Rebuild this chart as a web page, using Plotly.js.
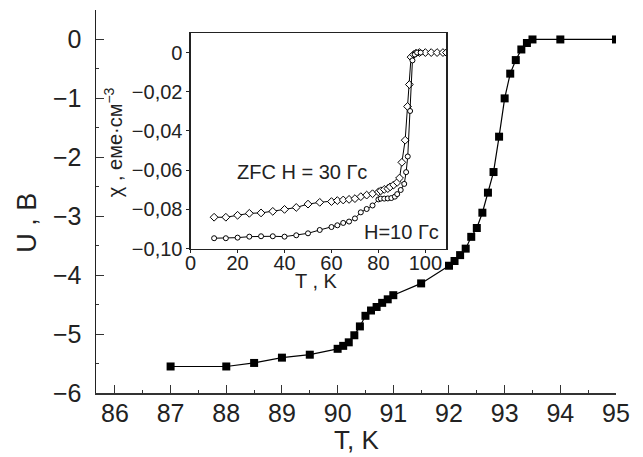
<!DOCTYPE html>
<html>
<head>
<meta charset="utf-8">
<script src="https://cdn.plot.ly/plotly-3.0.1.min.js"></script>
<style>html,body{margin:0;padding:0;background:#fff;}#plot{width:643px;height:457px;}</style>
</head>
<body>
<div id="plot"></div>
<script>
// Main curve: U(T)
const T_main = [87, 88, 88.5, 89, 89.5, 90, 90.1, 90.2, 90.3, 90.4, 90.5, 90.6, 90.7, 90.8, 90.9, 91, 91.5, 92, 92.1, 92.2, 92.3, 92.4, 92.5, 92.6, 92.7, 92.8, 92.9, 93, 93.1, 93.2, 93.3, 93.4, 93.5, 94, 95];
const U_main = [-5.55, -5.55, -5.49, -5.40, -5.35, -5.25, -5.20, -5.14, -5.02, -4.87, -4.69, -4.60, -4.54, -4.47, -4.41, -4.34, -4.14, -3.84, -3.76, -3.66, -3.55, -3.35, -3.20, -2.94, -2.60, -2.25, -1.65, -1.00, -0.58, -0.35, -0.17, -0.06, 0, 0, 0];

// Inset: ZFC H = 30 Gs (diamonds)
const T_zfc30 = [10, 15, 20, 25, 30, 35, 40, 45, 50, 55, 60, 62.5, 65, 67.5, 70, 72.5, 75, 77.5, 80, 81, 82.5, 84, 85, 86.5, 88, 89, 90, 91.4, 92.4, 93.2, 93.9, 95, 96, 97.5, 100, 102.5, 105, 107.5, 109];
const chi_zfc30 = [-0.0840, -0.0840, -0.0830, -0.0820, -0.0818, -0.0810, -0.0800, -0.0790, -0.0773, -0.0764, -0.0760, -0.0755, -0.0752, -0.0749, -0.0745, -0.0735, -0.0727, -0.0720, -0.0711, -0.0705, -0.0698, -0.0694, -0.0685, -0.0675, -0.0662, -0.0640, -0.0560, -0.0447, -0.0275, -0.0163, -0.0023, -0.0010, -0.0003, 0, 0, 0, 0, 0, 0];

// Inset: H = 10 Gs (circles)
const T_h10 = [10, 15, 20, 25, 30, 35, 40, 45, 50, 55, 60, 62.5, 65, 67.5, 70, 72.5, 75, 77.5, 80, 81, 82.5, 84, 85.5, 87, 88, 89.5, 91, 91.8, 92.5, 93.5, 94.5, 95.5, 96.5, 98];
const chi_h10 = [-0.0947, -0.0947, -0.0944, -0.0939, -0.0937, -0.0937, -0.0939, -0.0932, -0.0922, -0.0905, -0.0890, -0.0881, -0.0869, -0.0862, -0.0846, -0.0815, -0.0798, -0.0780, -0.0749, -0.0745, -0.0745, -0.0744, -0.0742, -0.0735, -0.0722, -0.0701, -0.0670, -0.0610, -0.0530, -0.0298, -0.0040, -0.0010, 0, 0];

// Tick labels
const mainXTicks = [86, 87, 88, 89, 90, 91, 92, 93, 94, 95];
const mainYTicks = [0, -1, -2, -3, -4, -5, -6];
const insetYTicks = [0, -0.02, -0.04, -0.06, -0.08, -0.10];
const insetYLabels = ['0', '\u22120,02', '\u22120,04', '\u22120,06', '\u22120,08', '\u22120,10'];
const insetXTicks = [0, 20, 40, 60, 80, 100];

const FONT = 'Liberation Sans, Arial, sans-serif';
const TXT = '#222';

const traces = [
  {x: T_main, y: U_main, xaxis: 'x', yaxis: 'y', mode: 'lines+markers',
   line: {color: '#000', width: 1.2},
   marker: {symbol: 'square', size: 8, color: '#000'}},
  {x: T_zfc30, y: chi_zfc30, xaxis: 'x2', yaxis: 'y2', mode: 'lines+markers',
   line: {color: '#000', width: 1},
   marker: {symbol: 'diamond', size: 6, color: '#fff', line: {color: '#000', width: 1}}},
  {x: T_h10, y: chi_h10, xaxis: 'x2', yaxis: 'y2', mode: 'lines+markers',
   line: {color: '#000', width: 1},
   marker: {symbol: 'circle', size: 5, color: '#fff', line: {color: '#000', width: 1}}}
];

const layout = {
  width: 643, height: 457,
  margin: {l: 96, r: 27, t: 10, b: 64},
  paper_bgcolor: '#fff', plot_bgcolor: 'rgba(0,0,0,0)',
  showlegend: false,
  font: {family: FONT, color: TXT},
  xaxis: {
    domain: [0, 1], range: [85.66, 95], tickvals: mainXTicks,
    ticks: 'inside', ticklen: 8, tickwidth: 1, tickcolor: '#333',
    minor: {dtick: 0.5, ticks: 'inside', ticklen: 3, tickcolor: '#333'},
    showline: true, linecolor: '#333', linewidth: 1.5, mirror: false,
    showgrid: false, zeroline: false,
    tickfont: {size: 25, color: TXT}, ticklabelstandoff: -3
  },
  xaxis3: {
    overlaying: 'x', side: 'top', range: [85.66, 95], anchor: 'y',
    showline: true, linecolor: '#888', linewidth: 1, ticks: '',
    showticklabels: false, showgrid: false, zeroline: false
  },
  yaxis: {
    domain: [0, 1], range: [-6, 0.5], tickvals: mainYTicks,
    ticks: 'inside', ticklen: 8, tickwidth: 1, tickcolor: '#333',
    minor: {dtick: 0.5, ticks: 'inside', ticklen: 3, tickcolor: '#333'},
    showline: true, linecolor: '#222', linewidth: 1.5,
    showgrid: false, zeroline: false,
    tickfont: {size: 25, color: TXT}, ticklabelstandoff: 8
  },
  yaxis3: {
    overlaying: 'y', side: 'right', range: [-6, 0.5], anchor: 'x', dtick: 0.5,
    ticks: 'inside', ticklen: 3, tickcolor: '#666',
    showline: true, linecolor: '#777', linewidth: 1.5,
    showticklabels: false, showgrid: false, zeroline: false
  },
  xaxis2: {
    domain: [0.182, 0.674], anchor: 'y2', range: [0, 109], tickvals: insetXTicks,
    ticks: 'outside', ticklen: 3, tickcolor: '#222',
    showline: true, linecolor: '#222', linewidth: 1.2, mirror: true,
    showgrid: false, zeroline: false,
    tickfont: {size: 20, color: TXT}, ticklabelstandoff: -7
  },
  yaxis2: {
    domain: [0.377, 0.939], anchor: 'x2', range: [-0.1, 0.0098],
    tickvals: insetYTicks, ticktext: insetYLabels,
    ticks: 'outside', ticklen: 3, tickcolor: '#222',
    showline: true, linecolor: '#222', linewidth: 1.2, mirror: true,
    showgrid: false, zeroline: false,
    tickfont: {size: 20, color: TXT}
  },
  shapes: [
    {type: 'rect', xref: 'paper', yref: 'paper', x0: 0.182, x1: 0.674, y0: 0.377, y1: 0.939,
     fillcolor: '#fff', line: {width: 0}, layer: 'below'}
  ],
  annotations: [
    {text: 'U , B', xref: 'paper', yref: 'paper', x: -0.133, y: 0.444, textangle: -90,
     showarrow: false, font: {size: 27, color: TXT}, xanchor: 'center', yanchor: 'middle'},
    {text: 'T, K', xref: 'paper', yref: 'paper', x: 0.5, y: (393 - 440) / 383,
     showarrow: false, font: {size: 26, color: TXT}, xanchor: 'center', yanchor: 'middle'},
    {text: '\u03c7 , еме\u00b7см<sup>\u22123</sup>', xref: 'paper', yref: 'paper', x: 0.0327, y: 0.655, textangle: -90,
     showarrow: false, font: {size: 20, color: TXT}, xanchor: 'center', yanchor: 'middle'},
    {text: 'T , K', xref: 'paper', yref: 'paper', x: 0.4235, y: (393 - 281) / 383,
     showarrow: false, font: {size: 20, color: TXT}, xanchor: 'center', yanchor: 'middle'},
    {text: 'ZFC H = 30 Гс', xref: 'paper', yref: 'paper', x: (301.5 - 96) / 520, y: (393 - 171.7) / 383,
     showarrow: false, font: {size: 20, color: TXT}, xanchor: 'center', yanchor: 'middle'},
    {text: 'H=10 Гс', xref: 'paper', yref: 'paper', x: (401.7 - 96) / 520, y: (393 - 232.3) / 383,
     showarrow: false, font: {size: 20, color: TXT}, xanchor: 'center', yanchor: 'middle'}
  ]
};

Plotly.newPlot('plot', traces, layout, {staticPlot: true, displayModeBar: false});
</script>
</body>
</html>
